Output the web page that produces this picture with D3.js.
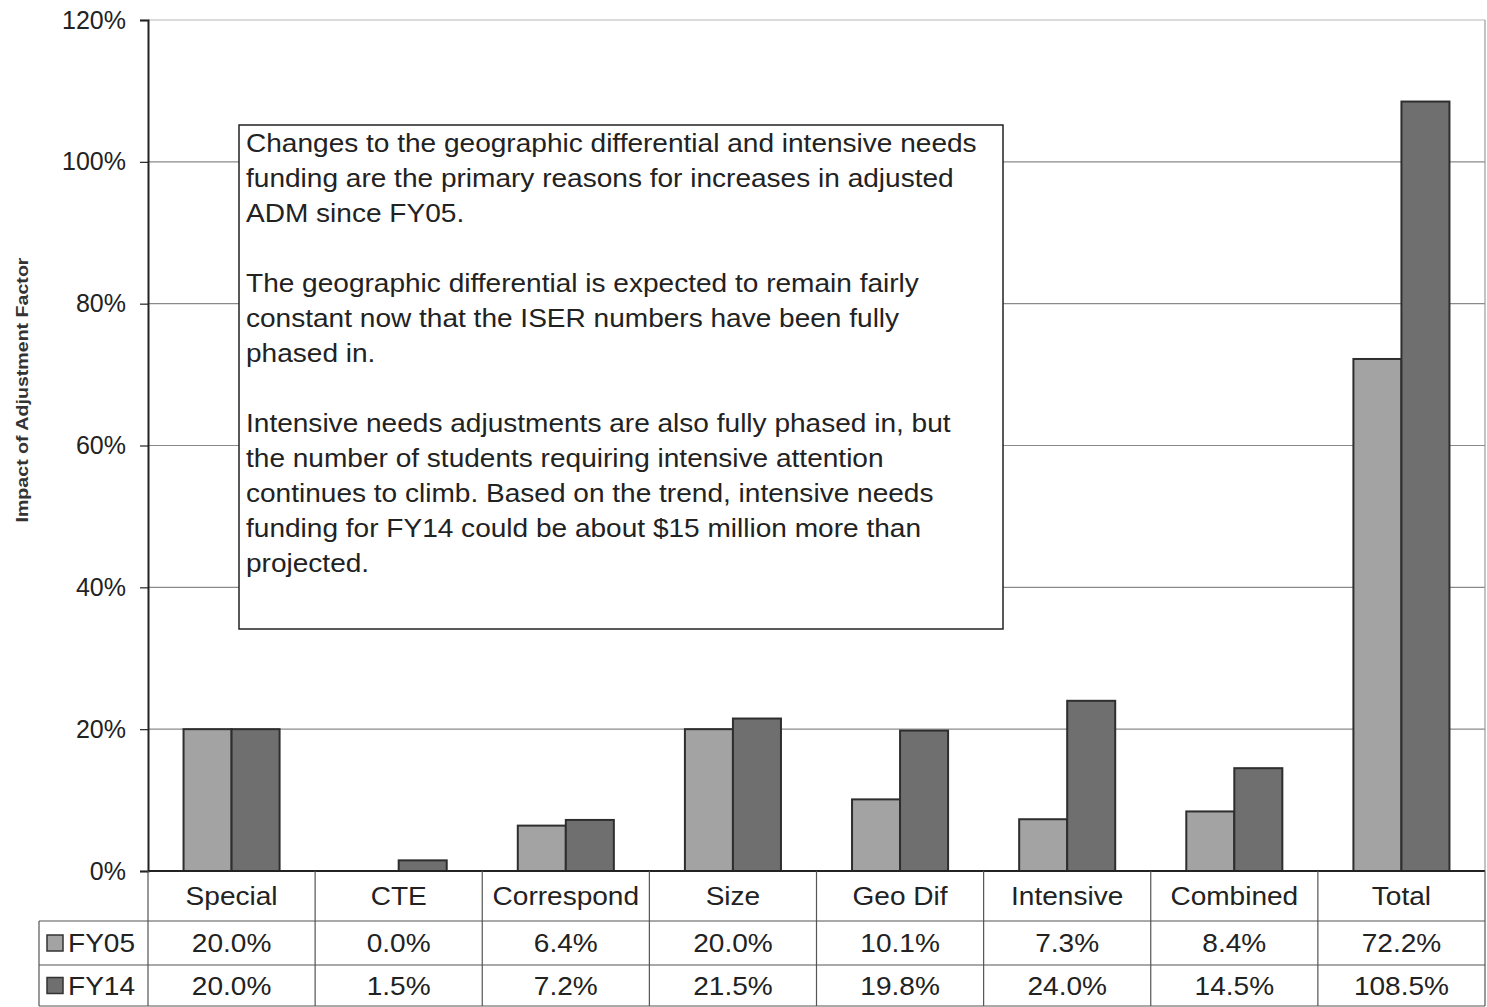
<!DOCTYPE html>
<html>
<head>
<meta charset="utf-8">
<script src="https://cdn.jsdelivr.net/npm/d3@7"></script>
<style>
  html, body { margin: 0; padding: 0; background: #fff; }
  svg { display: block; font-family: Arial, "Liberation Sans", sans-serif; }
</style>
</head>
<body>
<svg id="chart" width="1487" height="1007"></svg>
<script>
// Adjusted ADM factors, FY05 vs FY14
const categories = ["Special", "CTE", "Correspond", "Size", "Geo Dif", "Intensive", "Combined", "Total"];
const seriesNames = ["FY05", "FY14"];
const fy05 = [20.0, 0.0, 6.4, 20.0, 10.1, 7.3, 8.4, 72.2];
const fy14 = [20.0, 1.5, 7.2, 21.5, 19.8, 24.0, 14.5, 108.5];
const yTicks = [0, 20, 40, 60, 80, 100, 120];
const seriesColors = ["#a3a3a3", "#6f6f6f"];
const noteParagraphs = [
  ["Changes to the geographic differential and intensive needs",
   "funding are the primary reasons for increases in adjusted",
   "ADM since FY05."],
  ["The geographic differential is expected to remain fairly",
   "constant now that the ISER numbers have been fully",
   "phased in."],
  ["Intensive needs adjustments are also fully phased in, but",
   "the number of students requiring intensive attention",
   "continues to climb. Based on the trend, intensive needs",
   "funding for FY14 could be about $15 million more than",
   "projected."]
];

const svg = d3.select("#chart");
const plot = { left: 148, right: 1485, top: 20, bottom: 871 };
const TEXT_SIZE = 25.5;
const STRETCH = 1.1; // text in table and note is set slightly wide

const x = d3.scaleBand().domain(categories).range([plot.left, plot.right]);
const xInner = d3.scaleBand().domain(seriesNames).range([0, x.bandwidth()]).paddingOuter(0.74).paddingInner(0);
const y = d3.scaleLinear().domain([0, 120]).range([plot.bottom, plot.top]);

// helper: wide text placed at (px, py)
function wideText(sel, px, py, str, anchor) {
  return sel.append("text")
    .attr("transform", `translate(${px},${py}) scale(${STRETCH},1)`)
    .attr("text-anchor", anchor || "start")
    .attr("font-size", TEXT_SIZE).attr("fill", "#222")
    .text(str);
}

// gridlines
svg.append("g")
  .selectAll("line")
  .data(yTicks.filter(t => t > 0))
  .join("line")
  .attr("x1", plot.left).attr("x2", plot.right)
  .attr("y1", d => y(d)).attr("y2", d => y(d))
  .attr("stroke", d => d === 120 ? "#b8b8b8" : "#8a8a8a")
  .attr("stroke-width", 1.2);

// right border of plot
svg.append("line")
  .attr("x1", plot.right).attr("x2", plot.right)
  .attr("y1", plot.top).attr("y2", plot.bottom)
  .attr("stroke", "#9a9a9a").attr("stroke-width", 1.2);

// bars
const data = categories.map((c, i) => ({ cat: c, vals: [fy05[i], fy14[i]] }));
const groups = svg.append("g").selectAll("g")
  .data(data).join("g")
  .attr("transform", d => `translate(${x(d.cat)},0)`);
groups.selectAll("rect")
  .data(d => d.vals.map((v, j) => ({ v, s: seriesNames[j], j })))
  .join("rect")
  .attr("x", d => xInner(d.s))
  .attr("width", xInner.bandwidth())
  .attr("y", d => y(d.v))
  .attr("height", d => y(0) - y(d.v))
  .attr("fill", d => seriesColors[d.j])
  .attr("stroke", d => d.v > 0 ? "#2e2e2e" : "none")
  .attr("stroke-width", 2);

// y axis
const yAxis = d3.axisLeft(y).tickValues(yTicks).tickFormat(d => d + "%").tickSize(8).tickPadding(14);
const ya = svg.append("g").attr("transform", `translate(${plot.left},0)`).call(yAxis);
ya.select(".domain").attr("stroke", "#222").attr("stroke-width", 2);
ya.selectAll(".tick line").attr("stroke", "#222").attr("stroke-width", 1.2);
ya.selectAll(".tick text").attr("font-size", 25).attr("fill", "#222")
  .attr("font-family", "Arial, 'Liberation Sans', sans-serif");

// baseline
svg.append("line")
  .attr("x1", plot.left).attr("x2", plot.right)
  .attr("y1", plot.bottom).attr("y2", plot.bottom)
  .attr("stroke", "#222").attr("stroke-width", 2);

// y axis title
svg.append("text")
  .attr("transform", `translate(28,390) rotate(-90)`)
  .attr("text-anchor", "middle")
  .attr("font-size", 17).attr("font-weight", "bold").attr("fill", "#333")
  .attr("textLength", 265).attr("lengthAdjust", "spacingAndGlyphs")
  .text("Impact of Adjustment Factor");

// data table
const rowTops = [plot.bottom, 921, 965, 1006];
const legendLeft = 39;
const table = svg.append("g");
const lineColor = "#555";
[rowTops[1], rowTops[2], rowTops[3]].forEach((yy) => {
  table.append("line").attr("x1", legendLeft).attr("x2", plot.right)
    .attr("y1", yy).attr("y2", yy).attr("stroke", lineColor).attr("stroke-width", 1.2);
});
x.domain().forEach(c => {
  table.append("line").attr("x1", x(c)).attr("x2", x(c))
    .attr("y1", plot.bottom).attr("y2", rowTops[3])
    .attr("stroke", lineColor).attr("stroke-width", 1.2);
});
table.append("line").attr("x1", plot.right).attr("x2", plot.right)
  .attr("y1", plot.bottom).attr("y2", rowTops[3]).attr("stroke", lineColor).attr("stroke-width", 1.2);
table.append("line").attr("x1", legendLeft).attr("x2", legendLeft)
  .attr("y1", rowTops[1]).attr("y2", rowTops[3]).attr("stroke", lineColor).attr("stroke-width", 1.2);

// category labels
categories.forEach(c => {
  wideText(table, x(c) + x.bandwidth() / 2, (rowTops[0] + rowTops[1]) / 2 + 9, c, "middle");
});

// series rows
const rows = [fy05, fy14];
rows.forEach((vals, r) => {
  const cy = (rowTops[r + 1] + rowTops[r + 2]) / 2;
  table.append("rect")
    .attr("x", 47).attr("y", cy - 8).attr("width", 16).attr("height", 16)
    .attr("fill", seriesColors[r]).attr("stroke", "#333").attr("stroke-width", 1.5);
  wideText(table, 68, cy + 9, seriesNames[r]);
  vals.forEach((v, i) => {
    wideText(table, x(categories[i]) + x.bandwidth() / 2, cy + 9, v.toFixed(1) + "%", "middle");
  });
});

// annotation box
const note = svg.append("g");
note.append("rect")
  .attr("x", 239).attr("y", 125).attr("width", 764).attr("height", 504)
  .attr("fill", "#fff").attr("stroke", "#222").attr("stroke-width", 1.5);
let lineY = 152;
noteParagraphs.forEach(para => {
  para.forEach(line => {
    wideText(note, 246, lineY, line);
    lineY += 35;
  });
  lineY += 35;
});
</script>
</body>
</html>
